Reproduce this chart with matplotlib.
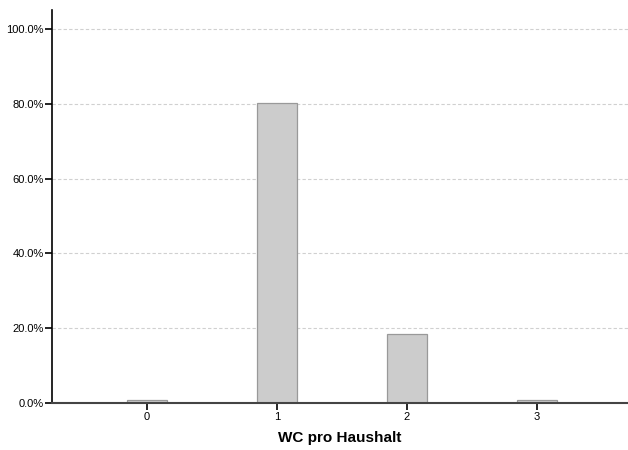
import matplotlib
matplotlib.use("Agg")
import matplotlib.pyplot as plt
from matplotlib.ticker import FuncFormatter

categories = ["0", "1", "2", "3"]
values = [0.7, 80.2, 18.4, 0.7]
yticks = [0, 20, 40, 60, 80, 100]

plt.rcParams['font.family'] = ['Liberation Sans', 'DejaVu Sans']

fig = plt.figure(figsize=(6.28, 4.5), dpi=100)
W, H = 628, 450
left, right, bottom, top = 52, 628, 402.7, 10
ax = fig.add_axes([left / W, 1 - bottom / H, (right - left) / W, (bottom - top) / H])

x = list(range(len(categories)))
ax.bar(x, values, width=0.305, color="#cccccc", edgecolor="#999999", linewidth=0.9, zorder=3)

ax.set_xlim(-0.73, 3.7)
ax.set_ylim(0, (bottom - top) / 3.735)
ax.set_yticks(yticks)
ax.yaxis.set_major_formatter(FuncFormatter(lambda v, p: f"{v:.1f}%"))
ax.set_xticks(x)
ax.set_xticklabels(categories)

ax.grid(axis="y", color="#d0d0d0", linestyle=(0, (3, 2)), linewidth=0.8, zorder=0)
ax.spines["top"].set_visible(False)
ax.spines["right"].set_visible(False)
ax.spines["left"].set_color("#000000")
ax.spines["left"].set_linewidth(1.2)
ax.spines["bottom"].set_color("#444444")
ax.spines["bottom"].set_linewidth(1.5)
ax.spines["bottom"].set_zorder(4)

ax.tick_params(axis="both", labelsize=8, colors="#000000", length=5, width=1.2, direction="out", pad=1)
ax.tick_params(axis="x", pad=2)
ax.set_xlabel("WC pro Haushalt", fontsize=11, fontweight="bold", labelpad=6)

fig.savefig("out.png", dpi=100)
